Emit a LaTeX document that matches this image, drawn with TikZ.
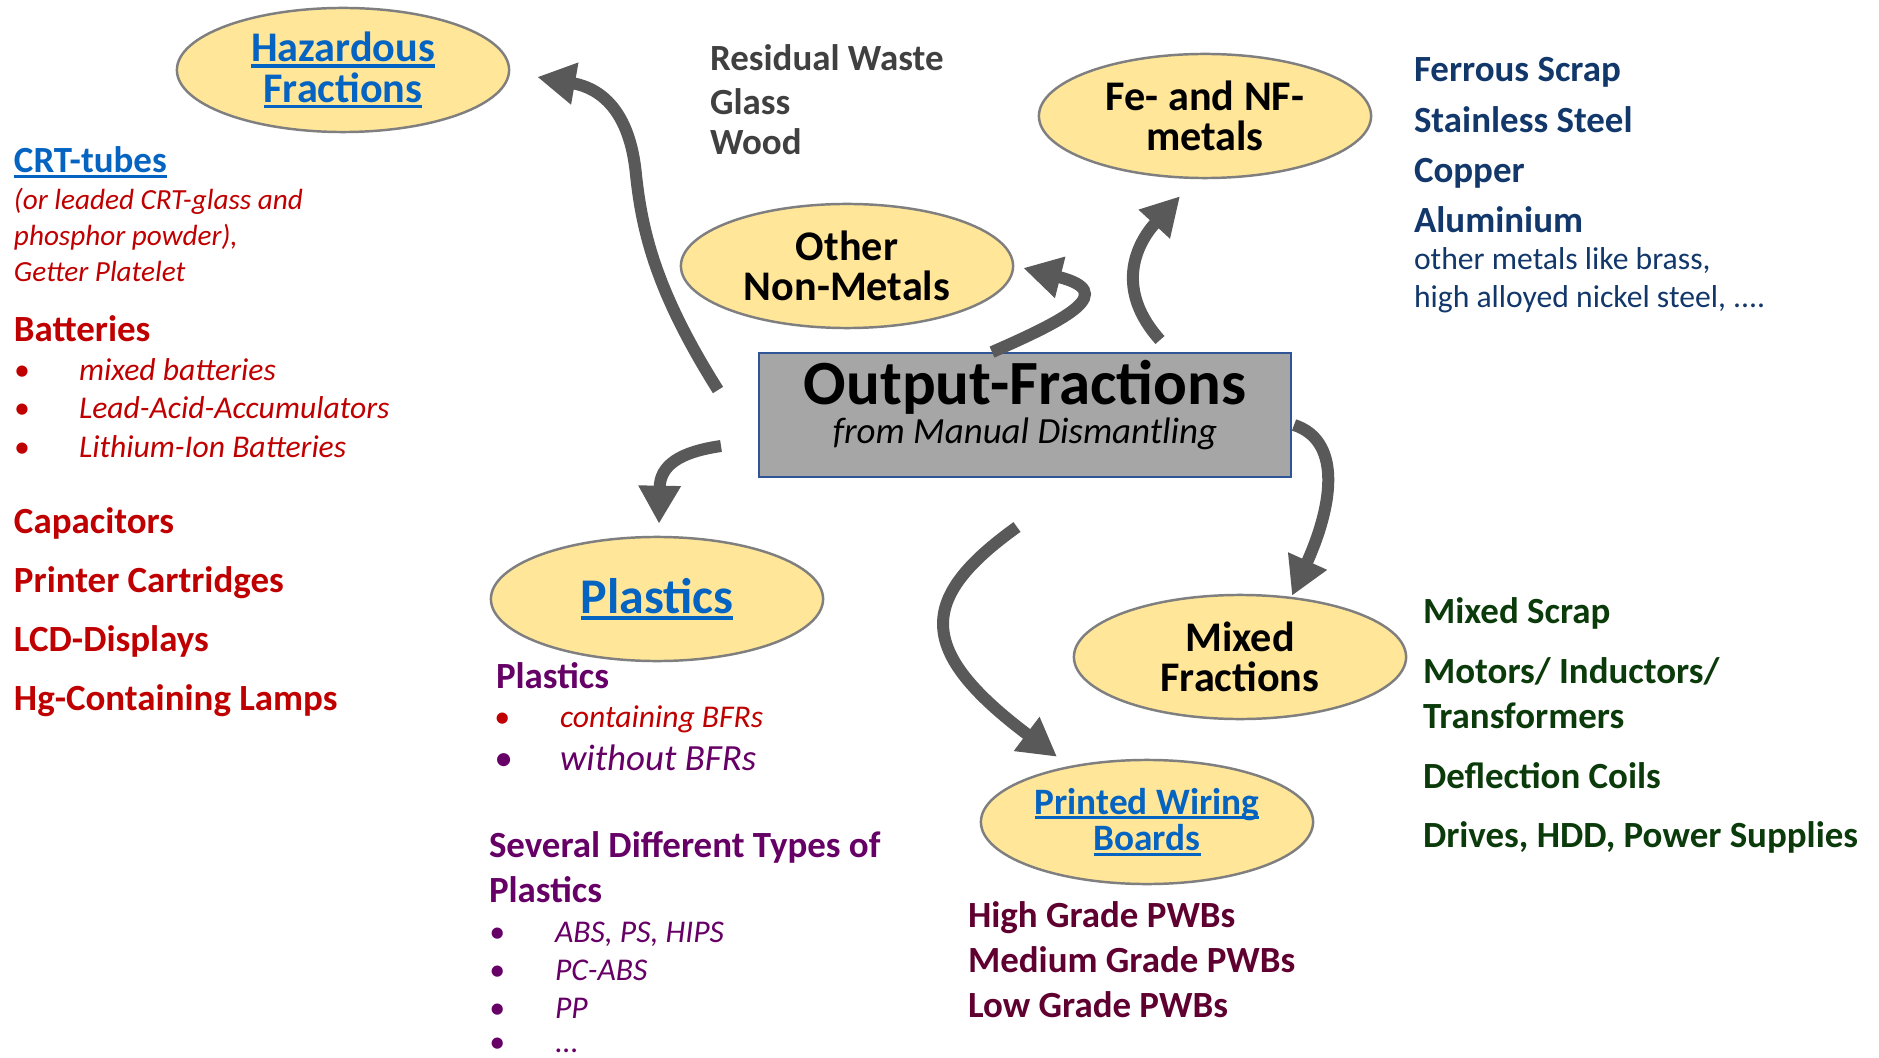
\documentclass[tikz,border=0pt]{standalone}
\usepackage{fontspec}
\setmainfont{Carlito}
\usetikzlibrary{shapes.geometric,arrows.meta}
\definecolor{linkblue}{HTML}{0563C1}
\definecolor{hazred}{HTML}{C00000}
\definecolor{resgray}{HTML}{404040}
\definecolor{navytxt}{HTML}{12386B}
\definecolor{plumtxt}{HTML}{660066}
\definecolor{maroontxt}{HTML}{600030}
\definecolor{greentxt}{HTML}{0B3B0B}
\definecolor{ellfill}{HTML}{FFE699}
\definecolor{ellline}{HTML}{7F7F7F}
\definecolor{boxfill}{HTML}{A6A6A6}
\definecolor{boxline}{HTML}{2F5597}
\definecolor{arrowgray}{HTML}{595959}
\newcommand\ulink[1]{\setbox0\hbox{#1}\rlap{\rule[-0.14em]{\wd0}{0.075em}}\box0}
\tikzset{
  ell/.style={ellipse, draw=ellline, line width=0.7pt, fill=ellfill, minimum width=3.32cm, minimum height=1.24cm, inner sep=0pt, align=center},
  ellfont/.style={font=\fontsize{12}{11.5}\selectfont\bfseries},
  txt/.style={anchor=base west, inner sep=0pt, outer sep=0pt},
  tbold/.style={font=\fontsize{10.5}{12}\selectfont\bfseries},
  tital/.style={font=\fontsize{9}{11}\selectfont\itshape},
  tsmall/.style={font=\fontsize{9}{11}\selectfont},
  flow/.style={draw=arrowgray, line width=0.12cm, -{Triangle[length=0.38cm,width=0.40cm]}},
}
\begin{document}
\begin{tikzpicture}[x=0.01cm,y=-0.01cm]
\fill[white] (0,0) rectangle (1879,1058);
\useasboundingbox (0,0) rectangle (1879,1058);

% fraction ellipses
\node[ell, ellfont, text=linkblue] (haz) at (343,70) {\ulink{Hazardous}\\\ulink{Fractions}};
\node[ell, ellfont] (fe) at (1205,116) {Fe- and NF-\\metals};
\node[ell, ellfont] (other) at (847,266) {Other\\Non-Metals};
\node[ell, font=\fontsize{14.2}{16}\selectfont\bfseries, text=linkblue] (plast) at (657,599) {\ulink{Plastics}};
\node[ell, font=\fontsize{10.6}{10.5}\selectfont\bfseries, text=linkblue] (pwb) at (1147,822) {\ulink{Printed Wiring}\\\ulink{Boards}};
\node[ell, ellfont] (mixed) at (1240,657) {Mixed\\Fractions};

% central box
\node[draw=boxline, fill=boxfill, line width=0.5pt, minimum width=5.32cm, minimum height=1.24cm, inner sep=0pt] (box) at (1025,415) {};
\node[anchor=base, inner sep=0pt, font=\fontsize{17.9}{20}\selectfont\bfseries] (title) at (1025,405) {Output-Fractions};
\node[anchor=base, inner sep=0pt, font=\fontsize{10.5}{12}\selectfont\itshape] (subtitle) at (1025,443) {from Manual Dismantling};

% hazardous list
\node[txt, tbold, text=linkblue] (crt) at (14,173) {\ulink{CRT-tubes}};
\node[txt, font=\fontsize{8.3}{10}\selectfont\itshape, text=hazred] (crt1) at (14,210) {(or leaded CRT-glass and};
\node[txt, font=\fontsize{8.3}{10}\selectfont\itshape, text=hazred] (crt2) at (14,246) {phosphor powder),};
\node[txt, font=\fontsize{8.3}{10}\selectfont\itshape, text=hazred] (crt3) at (14,282) {Getter Platelet};
\node[txt, tbold, text=hazred] (bat) at (14,342) {Batteries};
\node[txt, tital, text=hazred] (bb1) at (14,380) {\textbullet};
\node[txt, tital, text=hazred] (bt1) at (79,380) {mixed batteries};
\node[txt, tital, text=hazred] (bb2) at (14,419) {\textbullet};
\node[txt, tital, text=hazred] (bt2) at (79,419) {Lead-Acid-Accumulators};
\node[txt, tital, text=hazred] (bb3) at (14,458) {\textbullet};
\node[txt, tital, text=hazred] (bt3) at (79,458) {Lithium-Ion Batteries};
\node[txt, tbold, text=hazred] (cap) at (14,533) {Capacitors};
\node[txt, tbold, text=hazred] (prn) at (14,592) {Printer Cartridges};
\node[txt, tbold, text=hazred] (lcd) at (14,651) {LCD-Displays};
\node[txt, tbold, text=hazred] (hg) at (14,710) {Hg-Containing Lamps};

% residual
\node[txt, tbold, text=resgray] (res1) at (710,71) {Residual Waste};
\node[txt, tbold, text=resgray] (res2) at (710,115) {Glass};
\node[txt, tbold, text=resgray] (res3) at (710,155) {Wood};

% metals list
\node[txt, tbold, text=navytxt] (m1) at (1414,82) {Ferrous Scrap};
\node[txt, tbold, text=navytxt] (m2) at (1414,133) {Stainless Steel};
\node[txt, tbold, text=navytxt] (m3) at (1414,183) {Copper};
\node[txt, tbold, text=navytxt] (m4) at (1414,233) {Aluminium};
\node[txt, tsmall, text=navytxt] (m5) at (1414,270) {other metals like brass,};
\node[txt, tsmall, text=navytxt] (m6) at (1414,308) {high alloyed nickel steel, ....};

% plastics list
\node[txt, tbold, text=plumtxt] (p0) at (496,688) {Plastics};
\node[txt, tital, text=hazred] (pb1) at (494,727) {\textbullet};
\node[txt, tital, text=hazred] (pt1) at (560,727) {containing BFRs};
\node[txt, font=\fontsize{10.5}{12}\selectfont\itshape, text=plumtxt] (pb2) at (494,770) {\textbullet};
\node[txt, font=\fontsize{10.5}{12}\selectfont\itshape, text=plumtxt] (pt2) at (560,770) {without BFRs};
\node[txt, tbold, text=plumtxt] (pl1) at (489,857) {Several Different Types of};
\node[txt, tbold, text=plumtxt] (pl2) at (489,902) {Plastics};
\node[txt, tital, text=plumtxt] (qb1) at (489,942) {\textbullet};
\node[txt, tital, text=plumtxt] (qt1) at (555,942) {ABS, PS, HIPS};
\node[txt, tital, text=plumtxt] (qb2) at (489,980) {\textbullet};
\node[txt, tital, text=plumtxt] (qt2) at (555,980) {PC-ABS};
\node[txt, tital, text=plumtxt] (qb3) at (489,1018) {\textbullet};
\node[txt, tital, text=plumtxt] (qt3) at (555,1018) {PP};
\node[txt, tital, text=plumtxt] (qb4) at (489,1052) {\textbullet};
\node[txt, tital, text=plumtxt] (qt4) at (555,1052) {...};

% PWB list
\node[txt, tbold, text=maroontxt] (w1) at (968,927) {High Grade PWBs};
\node[txt, tbold, text=maroontxt] (w2) at (968,972) {Medium Grade PWBs};
\node[txt, tbold, text=maroontxt] (w3) at (968,1017) {Low Grade PWBs};

% mixed list
\node[txt, tbold, text=greentxt] (x1) at (1423,623) {Mixed Scrap};
\node[txt, tbold, text=greentxt] (x2) at (1423,683) {Motors/ Inductors/};
\node[txt, tbold, text=greentxt] (x3) at (1423,728) {Transformers};
\node[txt, tbold, text=greentxt] (x4) at (1423,788) {Deflection Coils};
\node[txt, tbold, text=greentxt] (x5) at (1423,847) {Drives, HDD, Power Supplies};

% arrows
\coordinate (a1s) at (718,390);
\coordinate (a3s) at (1160,340);
\coordinate (a4s) at (721,446);
\coordinate (a5s) at (1017,527);
\draw[flow] (a1s) .. controls (655,290) and (642,230) .. (636,175) .. controls (630,110) and (600,88) .. ([shift={(27,7)}]haz.east);
\draw[flow] ([shift={(-33,0)}]box.north) .. controls (1070,318) and (1118,292) .. ([shift={(9,2)}]other.east);
\draw[flow] (a3s) .. controls (1115,290) and (1135,245) .. ([shift={(-25,17)}]fe.south);
\draw[flow] (a4s) .. controls (680,452) and (660,465) .. ([shift={(2,-12)}]plast.north);
\draw[flow] (a5s) .. controls (918,598) and (915,650) .. ([shift={(-90,-2)}]pwb.north);
\draw[flow] ([shift={(2,10)}]box.east) .. controls (1340,440) and (1335,500) .. ([shift={(52,2)}]mixed.north);
\end{tikzpicture}
\end{document}
